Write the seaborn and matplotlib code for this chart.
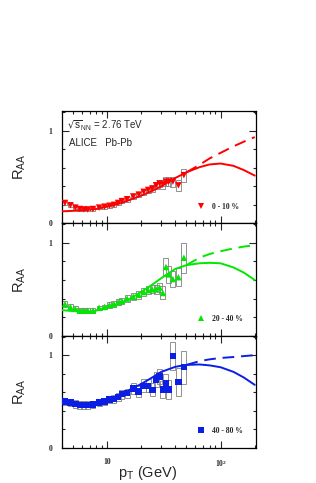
import numpy as np
import pandas as pd
import seaborn as sns
import matplotlib.pyplot as plt
from matplotlib.lines import Line2D
from matplotlib.ticker import FixedLocator, MultipleLocator, FuncFormatter, LogLocator

# transverse momentum bin centres (GeV)
pt = [4.25, 4.75, 5.25, 5.75, 6.25, 6.75, 7.5, 8.5, 9.5, 10.5, 11.5, 12.5, 13.5,
      15, 17, 19, 21, 23, 25, 27, 29, 31, 33, 35, 38, 42.5, 47.5]

# measured R_AA and systematic uncertainties per centrality class
raa_0_10 = [0.22, 0.195, 0.17, 0.155, 0.15, 0.15, 0.155, 0.17, 0.18, 0.19, 0.20, 0.22, 0.24,
            0.26, 0.29, 0.31, 0.34, 0.36, 0.375, 0.41, 0.43, 0.42, 0.45, 0.45, 0.45, 0.41, 0.52]
sys_0_10 = [0.02, 0.02, 0.02, 0.02, 0.02, 0.02, 0.02, 0.02, 0.02, 0.02, 0.02, 0.02, 0.025,
            0.025, 0.03, 0.03, 0.03, 0.035, 0.035, 0.04, 0.04, 0.045, 0.05, 0.05, 0.055, 0.06, 0.07]
raa_20_40 = [0.34, 0.31, 0.29, 0.27, 0.27, 0.27, 0.27, 0.30, 0.31, 0.33, 0.34, 0.36, 0.375,
             0.40, 0.42, 0.44, 0.47, 0.49, 0.50, 0.50, 0.52, 0.46, 0.74, 0.66, 0.61, 0.63, 0.84]
sys_20_40 = [0.03, 0.03, 0.025, 0.025, 0.025, 0.025, 0.025, 0.025, 0.025, 0.03, 0.03, 0.03, 0.03,
             0.035, 0.035, 0.04, 0.04, 0.045, 0.045, 0.05, 0.05, 0.07, 0.1, 0.09, 0.09, 0.1, 0.16]
raa_40_80 = [0.50, 0.49, 0.475, 0.465, 0.465, 0.465, 0.47, 0.49, 0.50, 0.52, 0.53, 0.55, 0.58,
             0.59, 0.64, 0.61, 0.67, 0.67, 0.625, 0.74, 0.77, 0.63, 0.70, 0.63, 0.99, 0.71, 0.87]
sys_40_80 = [0.04, 0.04, 0.04, 0.04, 0.04, 0.04, 0.04, 0.04, 0.04, 0.04, 0.045, 0.045, 0.05,
             0.05, 0.06, 0.06, 0.07, 0.07, 0.07, 0.08, 0.08, 0.09, 0.1, 0.1, 0.15, 0.15, 0.18]

# model curves
pt_curve = [4, 5, 6, 7, 8, 10, 13, 16, 20, 25, 30, 40, 50, 65, 80, 100, 130, 160, 200]
solid_0_10 = [0.13, 0.135, 0.14, 0.148, 0.155, 0.18, 0.215, 0.255, 0.30, 0.35, 0.40, 0.49,
              0.55, 0.605, 0.635, 0.645, 0.62, 0.575, 0.515]
solid_20_40 = [0.275, 0.265, 0.26, 0.26, 0.27, 0.31, 0.35, 0.40, 0.47, 0.55, 0.62, 0.72,
               0.76, 0.78, 0.785, 0.78, 0.735, 0.68, 0.60]
solid_40_80 = [0.50, 0.485, 0.475, 0.475, 0.48, 0.51, 0.57, 0.63, 0.69, 0.76, 0.82, 0.875,
               0.895, 0.90, 0.89, 0.87, 0.82, 0.76, 0.68]
pt_dash = [50, 65, 80, 100, 130, 160, 200]
dash_0_10 = [0.55, 0.63, 0.70, 0.76, 0.83, 0.88, 0.93]
dash_20_40 = [0.76, 0.84, 0.88, 0.91, 0.94, 0.96, 0.975]
dash_40_80 = [0.895, 0.935, 0.955, 0.97, 0.98, 0.99, 1.0]

panels = [
    ("0 - 10 %", "v", "#ff0000", raa_0_10, sys_0_10, solid_0_10, dash_0_10),
    ("20 - 40 %", "^", "#00e800", raa_20_40, sys_20_40, solid_20_40, dash_20_40),
    ("40 - 80 %", "s", "#0a1ee6", raa_40_80, sys_40_80, solid_40_80, dash_40_80),
]

sns.set_style("ticks")
plt.rcParams["font.family"] = ["Liberation Sans", "DejaVu Sans"]

fig, axes = plt.subplots(3, 1, figsize=(3.16, 4.83), dpi=100, sharex=True)
fig.subplots_adjust(left=0.196, right=0.81, bottom=0.0725, top=0.77, hspace=0)

serif_bold = {"family": "Liberation Serif", "weight": "bold", "size": 5.5}
half = 0.022  # half width of systematic boxes in decades

for ax, (label, marker, color, raa, sys_err, solid, dash) in zip(axes, panels):
    df = pd.DataFrame({"pt": pt, "raa": raa, "sys": sys_err})
    # systematic boxes
    ax.bar(df["pt"] * 10 ** -half, 2 * df["sys"], bottom=df["raa"] - df["sys"],
           width=df["pt"] * (10 ** half - 10 ** -half), align="edge",
           fill=False, edgecolor="#808080", linewidth=0.6, zorder=1)
    sns.scatterplot(data=df, x="pt", y="raa", marker=marker, color=color, s=22,
                    edgecolor="none", ax=ax, zorder=3, legend=False)
    cdf = pd.DataFrame({"pt": pt_curve, "raa": solid})
    sns.lineplot(data=cdf, x="pt", y="raa", color=color, lw=1.4, ax=ax,
                 estimator=None, zorder=4)
    ddf = pd.DataFrame({"pt": pt_dash, "raa": dash})
    sns.lineplot(data=ddf, x="pt", y="raa", color=color, lw=1.4, ax=ax,
                 estimator=None, zorder=4, linestyle=(0, (6, 3.5)))

    ax.set_xscale("log")
    ax.set_xlim(4, 205)
    ax.set_ylim(0, 1.21)
    ax.yaxis.set_major_locator(FixedLocator([0, 1]))
    ax.yaxis.set_minor_locator(MultipleLocator(0.2))
    ax.xaxis.set_major_locator(FixedLocator([10, 100]))
    ax.xaxis.set_minor_locator(LogLocator(base=10, subs=np.arange(2, 10)))
    ax.xaxis.set_major_formatter(FuncFormatter(
        lambda v, p: "10" if abs(v - 10) < 1e-6 else r"$\mathregular{10^{2}}$"))
    ax.xaxis.set_minor_formatter(FuncFormatter(lambda v, p: ""))
    ax.tick_params(which="both", direction="in", top=True, right=True, width=0.8,
                   labelsize=5.5, pad=7)
    ax.tick_params(which="major", length=5)
    ax.tick_params(which="minor", length=2.5)
    for t in ax.get_yticklabels() + ax.get_xticklabels():
        t.set_fontfamily("Liberation Serif")
        t.set_fontweight("bold")
    for sp in ax.spines.values():
        sp.set_linewidth(0.9)
        sp.set_color("black")

    ax.set_xlabel("")
    ax.set_ylabel(r"R$_{\mathregular{AA}}$", fontsize=10.5)
    ax.yaxis.set_label_coords(-0.175, 0.5)

    handle = Line2D([], [], marker=marker, ls="", color=color, markersize=3.8,
                    markeredgewidth=0)
    ax.legend([handle], [label], loc="center left", bbox_to_anchor=(0.66, 0.15),
              frameon=False, prop=serif_bold, handletextpad=1.0, handlelength=1.0)

axes[0].text(0.026, 0.867, r"$\sqrt{\mathregular{s}}_{\mathregular{NN}}$ = 2.76 TeV",
             transform=axes[0].transAxes, fontsize=7, va="center", ha="left")
axes[0].text(0.035, 0.717, "ALICE   Pb-Pb", transform=axes[0].transAxes,
             fontsize=7, va="center", ha="left")

axes[2].set_xlabel(r"p$_{\mathregular{T}}$ (GeV)", fontsize=10.5)
axes[2].xaxis.set_label_coords(0.443, -0.14)

fig.savefig("out.png", dpi=100, facecolor="white")
